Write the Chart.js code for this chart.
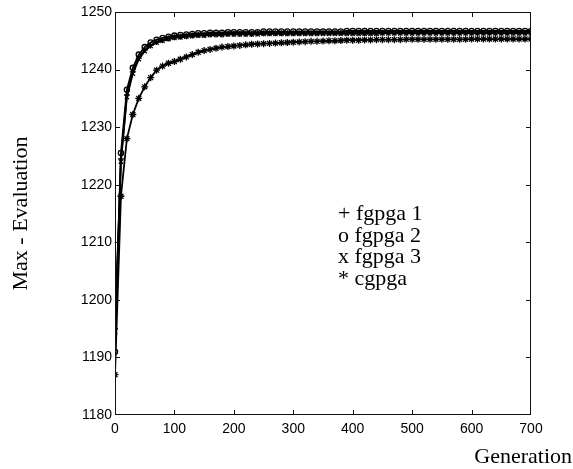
<!DOCTYPE html>
<html>
<head>
<meta charset="utf-8">
<script src="https://cdn.jsdelivr.net/npm/chart.js@4/dist/chart.umd.min.js"></script>
<style>
html,body{margin:0;padding:0;background:#fff;}
canvas{display:block;}
</style>
</head>
<body>
<canvas id="c" width="573" height="469"></canvas>
<script>
const generations = [0,10,20,30,40,50,60,70,80,90,100,110,120,130,140,150,160,170,180,190,200,210,220,230,240,250,260,270,280,290,300,310,320,330,340,350,360,370,380,390,400,410,420,430,440,450,460,470,480,490,500,510,520,530,540,550,560,570,580,590,600,610,620,630,640,650,660,670,680,690,700];

const fgpga1 = [1195,1224.5,1235.6,1239.6,1242.0,1243.4,1244.2,1244.8,1245.1,1245.4,
 1245.6,1245.7,1245.8,1245.9,1246.0,1246.0,1246.1,1246.1,1246.1,1246.2,
 1246.2,1246.2,1246.2,1246.2,1246.3,1246.3,1246.3,1246.3,1246.3,1246.3,
 1246.3,1246.3,1246.3,1246.3,1246.3,1246.4,1246.4,1246.4,1246.4,1246.4,
 1246.4,1246.4,1246.4,1246.4,1246.4,1246.4,1246.4,1246.4,1246.4,1246.4,
 1246.4,1246.4,1246.4,1246.4,1246.4,1246.4,1246.4,1246.4,1246.4,1246.4,
 1246.4,1246.4,1246.4,1246.4,1246.4,1246.4,1246.4,1246.4,1246.4,1246.4,
 1246.4];

const fgpga2 = [1191,1225.5,1236.5,1240.3,1242.6,1243.9,1244.7,1245.2,1245.5,1245.7,
 1245.9,1246.0,1246.1,1246.2,1246.3,1246.3,1246.4,1246.4,1246.4,1246.5,
 1246.5,1246.5,1246.5,1246.5,1246.5,1246.6,1246.6,1246.6,1246.6,1246.6,
 1246.6,1246.6,1246.6,1246.6,1246.6,1246.6,1246.6,1246.6,1246.6,1246.7,
 1246.7,1246.7,1246.7,1246.7,1246.7,1246.7,1246.7,1246.7,1246.7,1246.7,
 1246.7,1246.7,1246.7,1246.7,1246.7,1246.7,1246.7,1246.7,1246.7,1246.7,
 1246.7,1246.7,1246.7,1246.7,1246.7,1246.7,1246.7,1246.7,1246.7,1246.7,
 1246.7];

const fgpga3 = [1194.5,1224,1235.2,1239.3,1241.8,1243.2,1244.1,1244.7,1245.0,1245.3,
 1245.5,1245.6,1245.7,1245.8,1245.9,1245.9,1246.0,1246.0,1246.0,1246.1,
 1246.1,1246.1,1246.1,1246.1,1246.1,1246.2,1246.2,1246.2,1246.2,1246.2,
 1246.2,1246.2,1246.2,1246.2,1246.2,1246.2,1246.2,1246.2,1246.2,1246.2,
 1246.2,1246.2,1246.2,1246.2,1246.2,1246.3,1246.3,1246.3,1246.3,1246.3,
 1246.3,1246.3,1246.3,1246.3,1246.3,1246.3,1246.3,1246.3,1246.3,1246.3,
 1246.3,1246.3,1246.3,1246.3,1246.3,1246.3,1246.3,1246.3,1246.3,1246.3,
 1246.3];

const cgpga = [1187,1218,1228,1232.2,1235,1237,1238.6,1239.9,1240.6,1241.1,
 1241.4,1241.8,1242.2,1242.6,1243.0,1243.3,1243.5,1243.7,1243.9,1244.0,
 1244.1,1244.2,1244.3,1244.4,1244.45,1244.5,1244.55,1244.6,1244.65,1244.7,
 1244.75,1244.8,1244.85,1244.9,1244.9,1244.95,1245.0,1245.0,1245.05,1245.1,
 1245.1,1245.1,1245.15,1245.15,1245.2,1245.2,1245.2,1245.2,1245.2,1245.25,
 1245.25,1245.25,1245.25,1245.25,1245.25,1245.25,1245.25,1245.25,1245.25,1245.25,
 1245.3,1245.3,1245.3,1245.3,1245.3,1245.3,1245.3,1245.3,1245.3,1245.3,
 1245.3];

const seriesNames = ['fgpga 1','fgpga 2','fgpga 3','cgpga'];
const legendLines = ['+ fgpga 1','o fgpga 2','x fgpga 3','* cgpga'];
const xTickValues = [0,100,200,300,400,500,600,700];
const yTickValues = [1180,1190,1200,1210,1220,1230,1240,1250];
const xTitle = 'Generation';
const yTitle = 'Max - Evaluation';

const toPoints = vals => generations.map((g,i)=>({x:g,y:vals[i]}));

const serif = "'Liberation Serif','Times New Roman',serif";
const sans = "'Liberation Sans',Arial,sans-serif";

function ds(label, vals, style, radius){
  return {
    label, data: toPoints(vals),
    borderColor:'#000', backgroundColor:'rgba(0,0,0,0)',
    borderWidth:1.8, pointStyle:style, pointRadius:radius,
    pointBorderColor:'#000', pointBackgroundColor:'rgba(0,0,0,0)',
    pointBorderWidth:1.3, tension:0
  };
}

const framePlugin = {
  id:'frame',
  afterDraw(chart){
    const {ctx, chartArea:a, scales:{x,y}} = chart;
    ctx.save();
    ctx.strokeStyle='#111';
    ctx.lineWidth=1;
    ctx.strokeRect(a.left+0.5, a.top+0.5, a.right-a.left-1, a.bottom-a.top-1);
    ctx.beginPath();
    const tl = 5;
    xTickValues.forEach(v=>{
      const px = Math.round(x.getPixelForValue(v))+0.5;
      if (v===x.min || v===x.max) return;
      ctx.moveTo(px, a.bottom); ctx.lineTo(px, a.bottom-tl);
      ctx.moveTo(px, a.top); ctx.lineTo(px, a.top+tl);
    });
    yTickValues.forEach(v=>{
      const py = Math.round(y.getPixelForValue(v))+0.5;
      if (v===y.min || v===y.max) return;
      ctx.moveTo(a.left, py); ctx.lineTo(a.left+tl, py);
      ctx.moveTo(a.right, py); ctx.lineTo(a.right-tl, py);
    });
    ctx.stroke();

    ctx.fillStyle='#000';
    ctx.font = "22px " + serif;
    ctx.textAlign='left';
    ctx.textBaseline='alphabetic';
    legendLines.forEach((t,i)=>{
      ctx.fillText(t, 338, 220 + i*21.7);
    });
    ctx.textAlign='right';
    ctx.fillText(xTitle, 572, 463);
    ctx.restore();
  }
};

new Chart(document.getElementById('c'), {
  type:'line',
  data:{ datasets:[
    ds(seriesNames[0], fgpga1, 'cross', 3),
    ds(seriesNames[1], fgpga2, 'circle', 2.6),
    ds(seriesNames[2], fgpga3, 'crossRot', 3),
    ds(seriesNames[3], cgpga, 'star', 3.5)
  ]},
  options:{
    responsive:false,
    animation:false,
    devicePixelRatio:1,
    layout:{ padding:{ top:12, right:42, left:0, bottom:0 } },
    plugins:{ legend:{display:false}, tooltip:{enabled:false} },
    scales:{
      x:{
        type:'linear', min:0, max:700,
        afterBuildTicks(s){ s.ticks = xTickValues.map(v=>({value:v})); },
        afterFit(s){ s.height = 54; },
        grid:{ display:false, drawTicks:false },
        border:{ display:false },
        ticks:{ color:'#000', font:{ family:sans, size:14 }, padding:6, maxRotation:0,
          callback:v=>String(v) }
      },
      y:{
        min:1180, max:1250,
        afterBuildTicks(s){ s.ticks = yTickValues.map(v=>({value:v})); },
        afterFit(s){ s.width = 115; },
        grid:{ display:false, drawTicks:false },
        border:{ display:false },
        ticks:{ color:'#000', font:{ family:sans, size:14 }, padding:3,
          callback:v=>String(v) },
        title:{ display:true, text:yTitle, color:'#000', font:{ family:serif, size:22 }, padding:{top:8,bottom:0} }
      }
    }
  },
  plugins:[framePlugin]
});
</script>
</body>
</html>
